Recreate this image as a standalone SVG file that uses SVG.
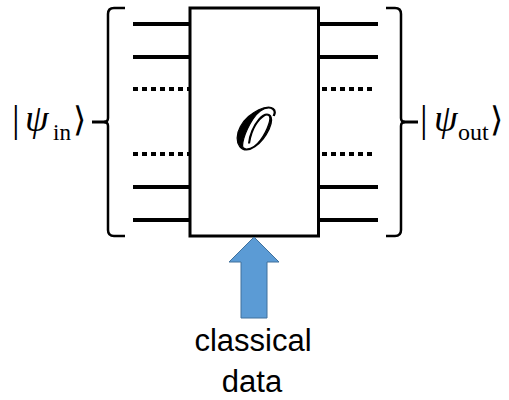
<svg xmlns="http://www.w3.org/2000/svg" width="509" height="400" viewBox="0 0 509 400">
<style>
.wire{stroke:#000;stroke-width:4;fill:none}
.dot{stroke:#000;stroke-width:4;fill:none;stroke-dasharray:5 4}
.brace{stroke:#000;stroke-width:2.5;fill:none}
.math{font-family:"Liberation Serif","Times New Roman",serif;fill:#000}
.lbl{font-family:"Liberation Sans",Arial,sans-serif;fill:#000;font-size:31px;text-anchor:middle}
</style>
<rect width="509" height="400" fill="#fff"/>
<g id="connectors">
<line class="wire" x1="133" y1="24" x2="190" y2="24"/>
<line class="wire" x1="133" y1="57" x2="190" y2="57"/>
<line class="dot" x1="133" y1="89" x2="190" y2="89"/>
<line class="dot" x1="133" y1="154" x2="190" y2="154"/>
<line class="wire" x1="133" y1="187" x2="190" y2="187"/>
<line class="wire" x1="133" y1="220" x2="190" y2="220"/>
<line class="wire" x1="318" y1="24" x2="378" y2="24"/>
<line class="wire" x1="318" y1="57" x2="378" y2="57"/>
<line class="dot" x1="322" y1="89" x2="376" y2="89"/>
<line class="dot" x1="322" y1="154" x2="376" y2="154"/>
<line class="wire" x1="318" y1="187" x2="378" y2="187"/>
<line class="wire" x1="318" y1="220" x2="378" y2="220"/>
</g>
<g id="oracle">
<rect x="190" y="8" width="128.5" height="228" fill="#fff" stroke="#000" stroke-width="3"/>
<text class="math" x="253" y="149" font-size="60" text-anchor="middle" stroke="#000" stroke-width="1.2">𝒪</text>
</g>
<g id="input-brace">
<path class="brace" d="M125,8 L114,8 Q108,8 108,14 L108,118 Q108,122 104,122 Q108,122 108,126 L108,230 Q108,236 114,236 L125,236"/>
<line x1="92" y1="122" x2="106" y2="122" stroke="#000" stroke-width="3"/>
</g>
<g id="output-brace">
<path class="brace" d="M386,8 L395,8 Q401,8 401,14 L401,118 Q401,122 405,122 Q401,122 401,126 L401,230 Q401,236 395,236 L386,236"/>
<line x1="403" y1="122" x2="418" y2="122" stroke="#000" stroke-width="3"/>
</g>
<g id="psi-in">
<text class="math" font-size="38" x="12" y="132">|</text>
<text class="math" font-size="38" x="25" y="131" font-style="italic">ψ</text>
<text class="math" font-size="23" x="53" y="140">in</text>
<text class="math" font-size="34" x="73" y="131">⟩</text>
</g>
<g id="psi-out">
<text class="math" font-size="38" x="420" y="132">|</text>
<text class="math" font-size="38" x="434" y="131" font-style="italic">ψ</text>
<text class="math" font-size="24" x="458" y="140">out</text>
<text class="math" font-size="34" x="490" y="131">⟩</text>
</g>
<g id="classical-data">
<path d="M254,237 L279,262 L267,262 L267,318 L241,318 L241,262 L229,262 Z" fill="#5B9BD5" stroke="#41719C" stroke-width="1"/>
<text class="lbl" x="253" y="351">classical</text>
<text class="lbl" x="252" y="392">data</text>
</g>
</svg>
